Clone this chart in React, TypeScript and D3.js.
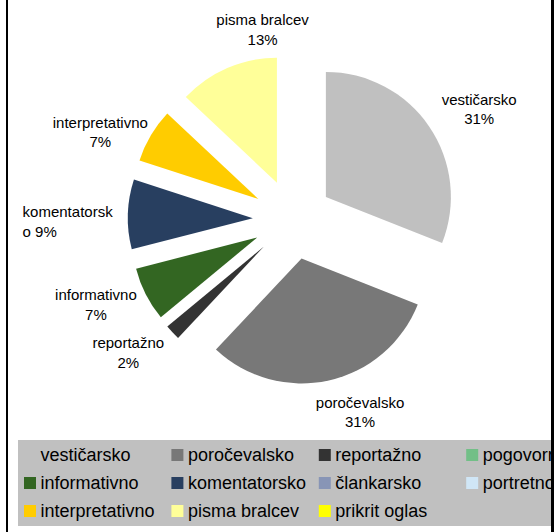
import React from "react";
import * as d3 from "d3";

const categories = [
  "vestičarsko",
  "poročevalsko",
  "reportažno",
  "pogovorno",
  "informativno",
  "komentatorsko",
  "članakarsko",
  "portretno",
  "interpretativno",
  "pisma bralcev",
  "prikrit oglas",
];
const legendNames = [
  "vestičarsko",
  "poročevalsko",
  "reportažno",
  "pogovorno",
  "informativno",
  "komentatorsko",
  "člankarsko",
  "portretno",
  "interpretativno",
  "pisma bralcev",
  "prikrit oglas",
];
const values = [31, 31, 2, 0, 7, 9, 0, 0, 7, 13, 0];
const colors = [
  "#c0c0c0",
  "#787878",
  "#333333",
  "#72bf87",
  "#336622",
  "#283f60",
  "#8895b6",
  "#d0e6f6",
  "#ffcc00",
  "#ffff99",
  "#ffff00",
];
// label text break position (0 = name on its own line, percent below)
const labelBreak = [0, 0, 0, 0, 0, 12, 0, 0, 0, 0, 0];
// small nudges of the data labels from their default bisector position
const labelNudge: [number, number][] = [
  [11, 9],
  [21, -14],
  [-10, -12],
  [0, 0],
  [-8, -11],
  [-13, 9],
  [0, 0],
  [0, 0],
  [-10, 21],
  [54, 5],
  [0, 0],
];

const W = 554;
const H = 532;
const cx = 292.8;
const cy = 219.4;
const R = 125;
const explode = 40;
const labelR = 212;
const FONT = "'Liberation Sans', Arial, sans-serif";

export default function App() {
  const total = d3.sum(values);
  const pie = d3
    .pie<number>()
    .sort(null)
    .value((d) => d)
    .startAngle(0)
    .endAngle(2 * Math.PI);
  const arcs = pie(values);
  const arc = d3.arc<d3.PieArcDatum<number>>().innerRadius(0).outerRadius(R);

  const legendX = d3.scaleLinear().domain([0, 1]).range([24, 24 + 147.4]);
  const legendY = d3.scaleLinear().domain([0, 1]).range([461, 489]);

  return (
    <svg
      width={W}
      height={H}
      style={{ position: "absolute", left: 0, top: 0, background: "#fff" }}
      fontFamily={FONT}
    >
      <rect x={0} y={0} width={W} height={H} fill="#fff" />
      {arcs.map((a, i) => {
        if (a.value <= 0) return null;
        const mid = (a.startAngle + a.endAngle) / 2;
        const dx = explode * Math.sin(mid);
        const dy = -explode * Math.cos(mid);
        return (
          <path
            key={i}
            d={arc(a) || ""}
            fill={colors[i]}
            transform={`translate(${cx + dx},${cy + dy})`}
          />
        );
      })}
      {arcs.map((a, i) => {
        if (a.value <= 0) return null;
        const mid = (a.startAngle + a.endAngle) / 2;
        const lx = cx + labelR * Math.sin(mid) + labelNudge[i][0];
        const ly = cy - labelR * Math.cos(mid) + labelNudge[i][1];
        const pct = Math.round((a.value / total) * 100) + "%";
        const name = categories[i];
        const b = labelBreak[i];
        if (b > 0) {
          const l1 = name.slice(0, b);
          const l2 = name.slice(b) + " " + pct;
          const x0 = lx - 45.3;
          return (
            <g key={i} fontSize={15} fill="#000">
              <text x={x0} y={ly - 4.5} textAnchor="start">{l1}</text>
              <text x={x0} y={ly + 15} textAnchor="start">{l2}</text>
            </g>
          );
        }
        return (
          <g key={i} fontSize={15} fill="#000" textAnchor="middle">
            <text x={lx} y={ly - 4.5}>{name}</text>
            <text x={lx} y={ly + 15}>{pct}</text>
          </g>
        );
      })}
      <rect x={18} y={440} width={540} height={86} fill="#c0c0c0" />
      {legendNames.map((n, i) => {
        const col = i % 4;
        const row = Math.floor(i / 4);
        const x = legendX(col);
        const y = legendY(row);
        return (
          <g key={n}>
            <rect x={x} y={y - 12} width={12} height={12} fill={colors[i]} />
            <text x={x + 16.5} y={y} fontSize={18} fill="#000">
              {n}
            </text>
          </g>
        );
      })}
      <rect x={6} y={0} width={2} height={H} fill="#000" />
      <rect x={551} y={0} width={3} height={H} fill="#000" />
    </svg>
  );
}
